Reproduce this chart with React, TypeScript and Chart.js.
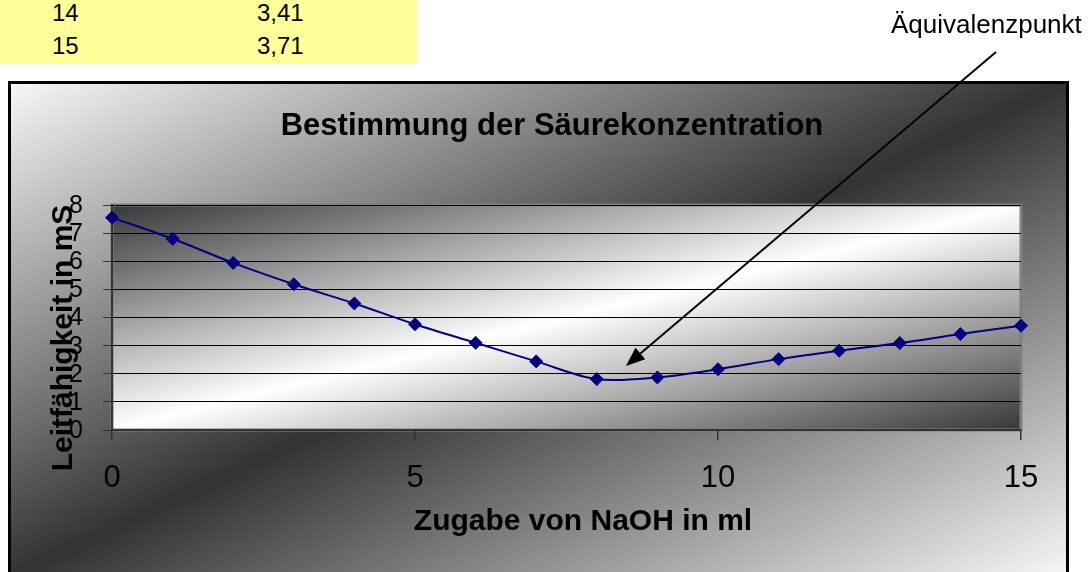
import React, { useEffect, useRef } from 'react';
import { Chart, registerables } from 'chart.js';

Chart.register(...registerables);

// ---- data ----
const volumeMl = [0, 1, 2, 3, 4, 5, 6, 7, 8, 9, 10, 11, 12, 13, 14, 15];
const conductivity = [7.55, 6.8, 5.94, 5.18, 4.5, 3.76, 3.1, 2.44, 1.81, 1.87, 2.16, 2.52, 2.82, 3.09, 3.41, 3.71];
const tableRowIndexes = [14, 15];

const chartTitle = 'Bestimmung der Säurekonzentration';
const xAxisTitle = 'Zugabe von NaOH in ml';
const yAxisTitle = 'Leitfähigkeit in mS';
const annotationLabel = 'Äquivalenzpunkt';
const arrowTip = { x: 8.48, y: 2.28 };

const FONT = '"Liberation Sans", Arial, Helvetica, sans-serif';
const Y_TICK_LENGTH = 9;
const Y_LABEL_GAP = 20;

function diagGradient(ctx: CanvasRenderingContext2D, x: number, y: number, w: number, h: number, stops: [number, string][]) {
  const cx = x + w / 2;
  const cy = y + h / 2;
  const L = Math.hypot(w, h);
  const nx = h / L;
  const ny = w / L;
  const half = (w * h) / L;
  const g = ctx.createLinearGradient(cx - nx * half, cy - ny * half, cx + nx * half, cy + ny * half);
  stops.forEach(([o, c]) => g.addColorStop(o, c));
  return g;
}

const decorPlugin = {
  id: 'decor',
  beforeDraw(chart: any) {
    const ctx: CanvasRenderingContext2D = chart.ctx;
    const ca = chart.chartArea;
    ctx.save();
    const fx = 8, fy = 81, fw = 1061, fh = 497;
    ctx.fillStyle = diagGradient(ctx, fx, fy, fw, fh, [
      [0, '#f8f8f8'],
      [0.5, '#333333'],
      [1, '#f8f8f8'],
    ]);
    ctx.fillRect(fx, fy, fw, fh);
    ctx.lineWidth = 3;
    ctx.strokeStyle = '#000';
    ctx.strokeRect(fx + 1.5, fy + 1.5, fw - 3, fh - 3);

    ctx.fillStyle = diagGradient(ctx, ca.left, ca.top, ca.width, ca.height, [
      [0, '#383838'],
      [0.5, '#ffffff'],
      [1, '#383838'],
    ]);
    ctx.fillRect(ca.left, ca.top, ca.width, ca.height);
    ctx.lineWidth = 3;
    ctx.strokeStyle = '#808080';
    ctx.strokeRect(ca.left, ca.top, ca.width, ca.height);
    ctx.restore();
  },
  afterDraw(chart: any) {
    const ctx: CanvasRenderingContext2D = chart.ctx;
    const yScale = chart.scales.y;
    ctx.save();
    ctx.fillStyle = '#000';

    // y tick labels from the scale's own ticks
    ctx.font = `25px ${FONT}`;
    ctx.textAlign = 'right';
    ctx.textBaseline = 'middle';
    yScale.ticks.forEach((t: any) => {
      ctx.fillText(String(t.value), chart.chartArea.left - Y_TICK_LENGTH - Y_LABEL_GAP, yScale.getPixelForValue(t.value) + 1);
    });

    ctx.textBaseline = 'alphabetic';
    ctx.textAlign = 'center';
    ctx.font = `bold 31px ${FONT}`;
    ctx.fillText(chartTitle, 552, 135);

    ctx.font = `bold 30px ${FONT}`;
    ctx.fillText(xAxisTitle, 583, 530);

    ctx.save();
    ctx.translate(72, 338);
    ctx.rotate(-Math.PI / 2);
    ctx.fillText(yAxisTitle, 0, 0);
    ctx.restore();

    ctx.textAlign = 'left';
    ctx.font = `26px ${FONT}`;
    ctx.fillText(annotationLabel, 891, 33);

    // arrow
    const tx = chart.scales.x.getPixelForValue(arrowTip.x);
    const ty = yScale.getPixelForValue(arrowTip.y);
    const sx = 996, sy = 52;
    const ang = Math.atan2(ty - sy, tx - sx);
    const headLen = 19, headW = 7.5;
    const bx = tx - headLen * Math.cos(ang);
    const by = ty - headLen * Math.sin(ang);
    ctx.strokeStyle = '#000';
    ctx.lineWidth = 2;
    ctx.beginPath();
    ctx.moveTo(sx, sy);
    ctx.lineTo(bx, by);
    ctx.stroke();
    ctx.beginPath();
    ctx.moveTo(tx, ty);
    ctx.lineTo(bx + headW * Math.sin(ang), by - headW * Math.cos(ang));
    ctx.lineTo(bx - headW * Math.sin(ang), by + headW * Math.cos(ang));
    ctx.closePath();
    ctx.fill();
    ctx.restore();
  },
};

function formatDe(v: number) {
  return v.toFixed(2).replace('.', ',');
}

export default function App() {
  const ref = useRef<HTMLCanvasElement | null>(null);

  useEffect(() => {
    if (!ref.current) return;
    const chart = new Chart(ref.current, {
      type: 'line',
      data: {
        datasets: [
          {
            data: volumeMl.map((x, i) => ({ x, y: conductivity[i] })),
            borderColor: '#000080',
            backgroundColor: '#000080',
            borderWidth: 2,
            pointStyle: 'rectRot',
            pointRadius: 6.5,
            pointBorderWidth: 1,
            pointBorderColor: '#000080',
            pointBackgroundColor: '#000080',
            tension: 0.33,
            clip: false as any,
          },
        ],
      },
      options: {
        responsive: false,
        animation: false,
        layout: { padding: { left: 0, top: 205, right: 68, bottom: 82 } },
        plugins: {
          legend: { display: false },
          title: { display: false },
          tooltip: { enabled: false },
        },
        scales: {
          x: {
            type: 'linear',
            min: 0,
            max: 15,
            ticks: {
              stepSize: 5,
              color: '#000',
              font: { family: FONT, size: 31 },
              padding: 20,
              maxRotation: 0,
              autoSkip: false,
            },
            grid: { drawOnChartArea: false, tickLength: 10, tickColor: '#333', lineWidth: 1.5 },
            border: { color: '#333', width: 2 },
            afterFit(s: any) {
              s.height = 60;
            },
          },
          y: {
            min: 0,
            max: 8,
            ticks: {
              stepSize: 1,
              display: false,
              autoSkip: false,
            },
            grid: { color: '#000', lineWidth: 1, tickLength: Y_TICK_LENGTH, tickColor: '#333' },
            border: { color: '#333', width: 2 },
            afterFit(s: any) {
              s.width = 112;
            },
          },
        },
      } as any,
      plugins: [decorPlugin],
    });
    return () => chart.destroy();
  }, []);

  return (
    <div style={{ position: 'absolute', left: 0, top: 0, width: 1089, height: 572, overflow: 'hidden' }}>
      <canvas ref={ref} width={1089} height={572} style={{ position: 'absolute', left: 0, top: 0 }} />
      <div
        style={{
          position: 'absolute',
          left: 0,
          top: 0,
          width: 417,
          height: 63,
          background: '#ffff99',
          fontFamily: FONT,
          fontSize: 24,
          lineHeight: '24px',
          color: '#000',
        }}
      >
        {tableRowIndexes.map((idx, r) => (
          <React.Fragment key={idx}>
            <span style={{ position: 'absolute', left: 52, top: 1 + r * 33 }}>{volumeMl[idx]}</span>
            <span style={{ position: 'absolute', left: 257, top: 1 + r * 33 }}>{formatDe(conductivity[idx])}</span>
          </React.Fragment>
        ))}
      </div>
    </div>
  );
}
